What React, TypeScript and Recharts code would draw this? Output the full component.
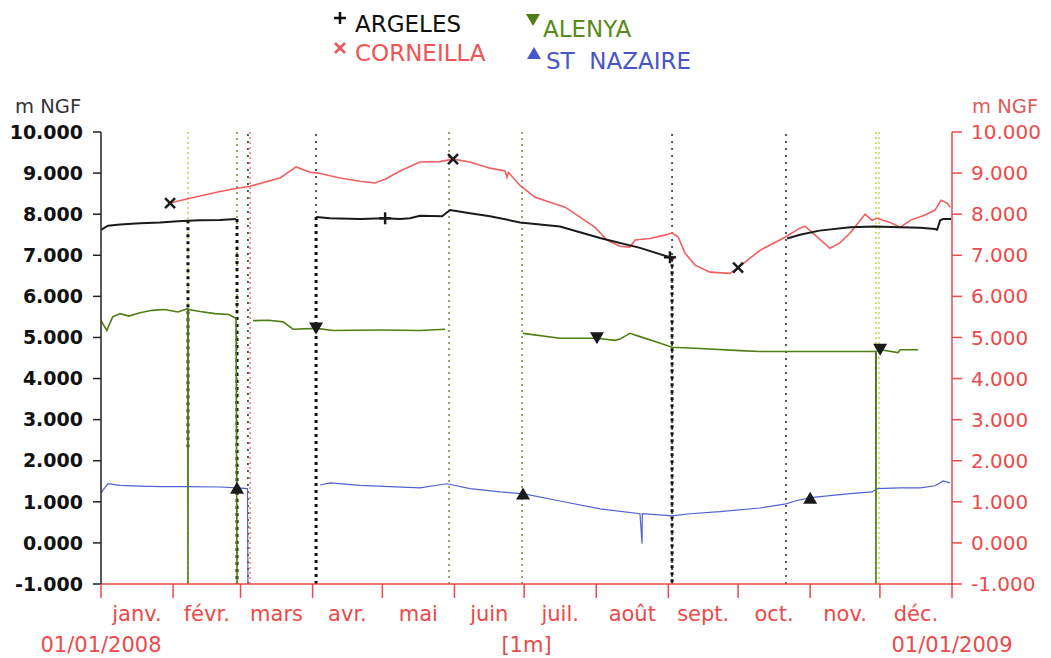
import React from 'react';
import { LineChart, Line, XAxis, YAxis, ReferenceLine } from 'recharts';

// Day index from 01/01/2008 (0) to 01/01/2009 (366)
const monthStarts = [0, 31, 60, 91, 121, 152, 182, 213, 244, 274, 305, 335, 366];
const monthLabels = ['janv.', 'févr.', 'mars', 'avr.', 'mai', 'juin', 'juil.', 'août', 'sept.', 'oct.', 'nov.', 'déc.'];
const yTicks = [-1, 0, 1, 2, 3, 4, 5, 6, 7, 8, 9, 10];

const argelesDays = [0, 3, 8.2, 16.8, 25.4, 33, 37.4, 42.6, 51.2, 58.1, 58.6, 92.5, 98.5, 111.4, 122.2, 128.6, 132.9, 137.2, 146.7, 150.1, 158.7, 167.3, 180.2, 197.4, 214.6, 231.8, 244.7, 245.5, 295.1, 300.6, 309, 322.2, 332.9, 343.7, 352.3, 358.7, 359.6, 360.9, 362.2, 365.6];
const argelesLevels = [7.62, 7.72, 7.75, 7.78, 7.8, 7.83, 7.84, 7.85, 7.86, 7.88, null, 7.93, 7.9, 7.88, 7.9, 7.88, 7.9, 7.96, 7.95, 8.1, 8.02, 7.95, 7.8, 7.7, 7.42, 7.18, 6.95, null, 7.41, 7.5, 7.6, 7.68, 7.7, 7.68, 7.67, 7.64, 7.62, 7.85, 7.88, 7.88];
const argelesMarks = [122.2, 244.7];

const corneillaDays = [29.7, 38.3, 51.2, 58.5, 64.1, 77, 83.9, 89.9, 93.3, 102.8, 111.4, 117.8, 122.2, 128.6, 137.2, 145.8, 151.4, 158.7, 167.3, 173.8, 174.6, 175.2, 180.2, 186.7, 193.1, 199.6, 206, 212.5, 217.6, 223.2, 227.5, 229.7, 236.1, 242.6, 245.6, 248.2, 251.2, 255.5, 261.9, 270.5, 274, 283.4, 294.2, 300.6, 302.8, 307.1, 313.5, 317.8, 322.2, 328.6, 331.6, 333.8, 339.4, 343.7, 348, 354.4, 358.7, 361.3, 363.9, 365.2];
const corneillaLevels = [8.27, 8.39, 8.55, 8.63, 8.68, 8.88, 9.15, 9.02, 9.0, 8.88, 8.8, 8.76, 8.85, 9.05, 9.27, 9.28, 9.34, 9.27, 9.12, 9.05, 8.9, 9.02, 8.7, 8.41, 8.29, 8.17, 7.93, 7.68, 7.37, 7.22, 7.2, 7.37, 7.41, 7.49, 7.54, 7.45, 7.05, 6.76, 6.59, 6.56, 6.7, 7.12, 7.44, 7.66, 7.71, 7.49, 7.17, 7.3, 7.54, 8.0, 7.85, 7.9, 7.8, 7.68, 7.85, 7.98, 8.1, 8.34, 8.27, 8.17];
const corneillaMarks = [29.7, 151.4, 274];

const alenyaDays = [0, 2.5, 5, 8.2, 12, 16.8, 22, 27.4, 33, 37.3, 37.4, 37.5, 42.6, 49, 55, 58.1, 58.5, 60, 65.4, 72, 78.3, 82.6, 92.5, 100, 120, 137.2, 148, 149, 181.5, 197.4, 213.3, 221, 223.2, 227.5, 231.8, 238.3, 245.6, 257.6, 274.8, 283.4, 295.1, 317.8, 333.2, 333.3, 333.4, 335.1, 342.8, 343.7, 351.4];
const alenyaLevels = [5.41, 5.17, 5.5, 5.58, 5.52, 5.6, 5.66, 5.68, 5.62, 5.7, -1, 5.68, 5.63, 5.58, 5.56, 5.46, -1, null, 5.41, 5.42, 5.38, 5.2, 5.22, 5.17, 5.18, 5.17, 5.2, null, 5.1, 4.98, 4.98, 4.93, 4.96, 5.1, 5.02, 4.9, 4.76, 4.73, 4.68, 4.66, 4.66, 4.66, 4.66, -1, 4.66, 4.7, 4.63, 4.7, 4.7];
const alenyaMarks = [92.5, 213.3, 335.1];

const nazaireDays = [0, 3, 8.2, 16.8, 25.4, 37.4, 51.2, 58.5, 63, 63.2, 64, 94.2, 98.5, 111.4, 124.3, 137.2, 148.8, 158.7, 171.6, 181.5, 197.4, 214.6, 231.8, 232.7, 232.8, 245.6, 253.3, 266.2, 283.4, 294.6, 298.5, 305, 322.2, 331.6, 333.8, 343.7, 352.3, 358.7, 362.2, 365.2];
const nazaireLevels = [1.22, 1.44, 1.4, 1.38, 1.37, 1.37, 1.36, 1.34, 1.32, -1, null, 1.41, 1.46, 1.4, 1.37, 1.34, 1.44, 1.32, 1.24, 1.2, 1.02, 0.83, 0.71, -0.02, 0.71, 0.66, 0.71, 0.76, 0.85, 0.95, 1.02, 1.1, 1.2, 1.24, 1.32, 1.34, 1.34, 1.39, 1.51, 1.46];
const nazaireMarks = [58.5, 181.5, 305];

// vertical dotted event lines
const darkDottedDays = [63.2, 92.5, 245.6, 294.6];
const paleOliveDays = [37.4, 333.3, 334.6];
const darkOliveDays = [58.5, 149.7, 181.1];
const redDottedDays = [64.1];
const argelesDropDays = [37.4, 58.5, 92.5, 245.6];
const argelesDropFrom = [7.85, 7.88, 7.93, 6.95];
const argelesDropTo = [2.3, -1, -1, -1];

const RED = '#ec4a4a';
const FONT = '"DejaVu Sans", Arial, sans-serif';

const toRows = (days: number[], levels: (number | null)[]) => days.map((day, i) => ({ day, v: levels[i] }));

const argeles = toRows(argelesDays, argelesLevels);
const corneilla = toRows(corneillaDays, corneillaLevels);
const alenya = toRows(alenyaDays, alenyaLevels);
const nazaire = toRows(nazaireDays, nazaireLevels);

const monthMids = monthLabels.map((_, i) => (monthStarts[i] + monthStarts[i + 1]) / 2);
const xTicks = [...monthStarts, ...monthMids];

const Marker = ({ cx, cy, shape, color }: { cx: number; cy: number; shape: string; color: string }) => {
  if (shape === 'plus')
    return (
      <g stroke={color} strokeWidth={2.5}>
        <line x1={cx - 6} y1={cy} x2={cx + 6} y2={cy} />
        <line x1={cx} y1={cy - 6} x2={cx} y2={cy + 6} />
      </g>
    );
  if (shape === 'cross')
    return (
      <g stroke={color} strokeWidth={2.5}>
        <line x1={cx - 5} y1={cy - 5} x2={cx + 5} y2={cy + 5} />
        <line x1={cx - 5} y1={cy + 5} x2={cx + 5} y2={cy - 5} />
      </g>
    );
  if (shape === 'down') return <path d={`M${cx - 7},${cy - 6}L${cx + 7},${cy - 6}L${cx},${cy + 6}Z`} fill={color} />;
  return <path d={`M${cx - 7},${cy + 6}L${cx + 7},${cy + 6}L${cx},${cy - 6}Z`} fill={color} />;
};

const makeDot = (marks: number[], shape: string) => (props: any) => {
  const { cx, cy, payload, index } = props;
  if (cx == null || cy == null || !marks.includes(payload.day)) return <g key={`n-${index}`} />;
  return (
    <g key={`m-${index}`}>
      <Marker cx={cx} cy={cy} shape={shape} color="#1a1a1a" />
    </g>
  );
};

const MonthTick = (props: any) => {
  const { x, y, payload } = props;
  const v = payload.value;
  const s = monthStarts.indexOf(v);
  if (s >= 0) {
    return (
      <g>
        <line x1={x} y1={y} x2={x} y2={y + 14} stroke={RED} strokeWidth={1.5} />
        {s === 0 && (
          <text x={x} y={y + 68} textAnchor="middle" fill={RED} fontSize={21} fontFamily={FONT}>
            01/01/2008
          </text>
        )}
        {s === 12 && (
          <text x={x} y={y + 68} textAnchor="middle" fill={RED} fontSize={21} fontFamily={FONT}>
            01/01/2009
          </text>
        )}
      </g>
    );
  }
  const m = monthMids.indexOf(v);
  return (
    <text x={x} y={y + 37} textAnchor="middle" fill={RED} fontSize={21} fontFamily={FONT}>
      {monthLabels[m]}
    </text>
  );
};

const App: React.FC = () => {
  return (
    <div style={{ position: 'absolute', left: 0, top: 0, width: 1051, height: 658, background: '#fff', fontFamily: FONT }}>
      <LineChart width={1051} height={658} data={argeles} margin={{ top: 132, right: 9, bottom: 0, left: 11 }}>
        <XAxis
          dataKey="day"
          type="number"
          domain={[0, 366]}
          ticks={xTicks}
          interval={0}
          allowDataOverflow
          height={74}
          tickLine={false}
          tickSize={0}
          tickMargin={0}
          tick={<MonthTick />}
          axisLine={{ stroke: RED, strokeWidth: 1.5 }}
          label={{ value: '[1m]', position: 'insideBottom', offset: 6, fill: RED, fontSize: 21, fontFamily: FONT }}
        />
        <YAxis
          yAxisId="left"
          domain={[-1, 10]}
          ticks={yTicks}
          interval={0}
          allowDataOverflow
          width={90}
          tickSize={8}
          tickMargin={10}
          tickFormatter={(v: number) => v.toFixed(3)}
          axisLine={{ stroke: '#222', strokeWidth: 1.5 }}
          tickLine={{ stroke: '#222', strokeWidth: 1.5 }}
          tick={{ fill: '#111', fontSize: 19, fontWeight: 'bold', fontFamily: FONT }}
        />
        <YAxis
          yAxisId="right"
          orientation="right"
          domain={[-1, 10]}
          ticks={yTicks}
          interval={0}
          allowDataOverflow
          width={90}
          tickSize={10}
          tickMargin={9}
          tickFormatter={(v: number) => v.toFixed(3)}
          axisLine={{ stroke: RED, strokeWidth: 1.5 }}
          tickLine={{ stroke: RED, strokeWidth: 1.5 }}
          tick={{ fill: RED, fontSize: 20, fontFamily: FONT }}
        />

        {paleOliveDays.map((d) => (
          <ReferenceLine key={`po-${d}`} yAxisId="left" x={d} stroke="#c9cf5a" strokeWidth={1.5} strokeDasharray="2 3" />
        ))}
        {darkOliveDays.map((d) => (
          <ReferenceLine key={`do-${d}`} yAxisId="left" x={d} stroke="#7f8040" strokeWidth={1.5} strokeDasharray="2 4" />
        ))}
        {redDottedDays.map((d) => (
          <ReferenceLine key={`rd-${d}`} yAxisId="left" x={d} stroke="#f07a6a" strokeWidth={1.5} strokeDasharray="2 3" />
        ))}
        {darkDottedDays.map((d) => (
          <ReferenceLine key={`dd-${d}`} yAxisId="left" x={d} stroke="#222" strokeWidth={1.5} strokeDasharray="2 5" />
        ))}
        {argelesDropDays.map((d, i) => (
          <ReferenceLine
            key={`ad-${d}`}
            yAxisId="left"
            segment={[{ x: d, y: argelesDropFrom[i] }, { x: d, y: argelesDropTo[i] }]}
            stroke="#111"
            strokeWidth={3}
            strokeDasharray="3 4"
          />
        ))}

        <Line yAxisId="left" data={nazaire} dataKey="v" stroke="#5262d2" strokeWidth={1.2} dot={makeDot(nazaireMarks, 'up')} activeDot={false} isAnimationActive={false} />
        <Line yAxisId="left" data={alenya} dataKey="v" stroke="#4f7e14" strokeWidth={1.6} dot={makeDot(alenyaMarks, 'down')} activeDot={false} isAnimationActive={false} />
        <Line yAxisId="right" data={corneilla} dataKey="v" stroke="#f25f5f" strokeWidth={1.6} dot={makeDot(corneillaMarks, 'cross')} activeDot={false} isAnimationActive={false} />
        <Line yAxisId="left" data={argeles} dataKey="v" stroke="#1a1a1a" strokeWidth={2} dot={makeDot(argelesMarks, 'plus')} activeDot={false} isAnimationActive={false} />
      </LineChart>

      <svg width={1051} height={140} style={{ position: 'absolute', left: 0, top: 0, pointerEvents: 'none' }} fontFamily={FONT}>
        <Marker cx={340} cy={18} shape="plus" color="#111" />
        <text x={355} y={32} fontSize={23} fill="#111">ARGELES</text>
        <Marker cx={340} cy={48} shape="cross" color="#f05555" />
        <text x={355} y={61} fontSize={23} fill="#f05555">CORNEILLA</text>
        <Marker cx={533} cy={20} shape="down" color="#4f7e14" />
        <text x={543} y={37} fontSize={23} fill="#5a8a1e">ALENYA</text>
        <Marker cx={534} cy={53} shape="up" color="#4a55c8" />
        <text x={546} y={69} fontSize={23} fill="#4a55c8">{'ST\u00a0\u00a0NAZAIRE'}</text>
        <text x={15} y={113} fontSize={19.5} fill="#333">m NGF</text>
        <text x={972} y={113} fontSize={19.5} fill="#e05a5a">m NGF</text>
      </svg>
    </div>
  );
};

export default App;
